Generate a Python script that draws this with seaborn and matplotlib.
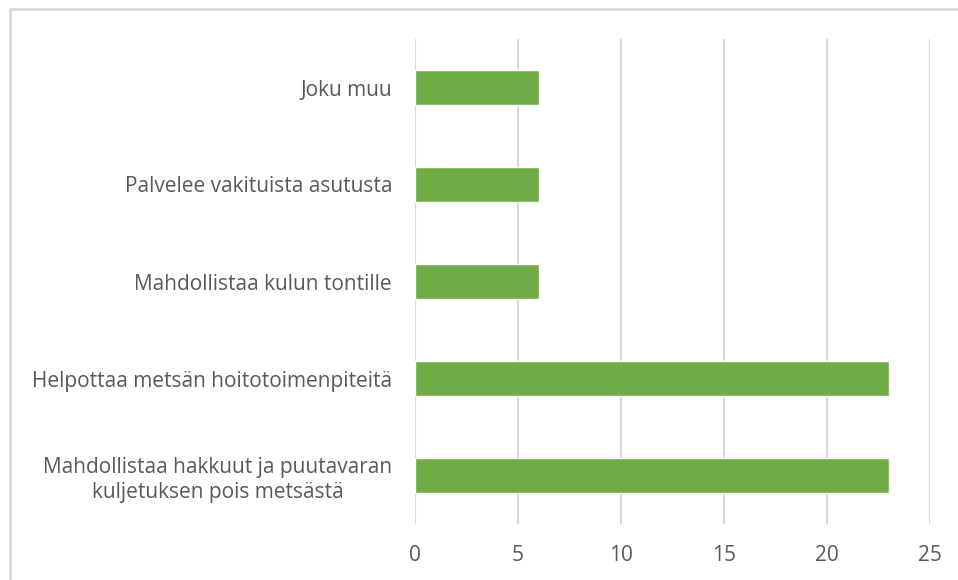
import matplotlib
matplotlib.use("Agg")
import matplotlib.pyplot as plt
from matplotlib.lines import Line2D
import seaborn as sns
import pandas as pd

categories = [
    "Joku muu",
    "Palvelee vakituista asutusta",
    "Mahdollistaa kulun tontille",
    "Helpottaa metsän hoitotoimenpiteitä",
    "Mahdollistaa hakkuut ja puutavaran\nkuljetuksen pois metsästä",
]
values = [6, 6, 6, 23, 23]
x_ticks = [0, 5, 10, 15, 20, 25]

df = pd.DataFrame({"cat": categories, "val": values})

sns.set_theme(style="white")
plt.rcParams["font.family"] = ["Open Sans", "DejaVu Sans"]

W, H = 958, 580
fig = plt.figure(figsize=(W / 100, H / 100), dpi=100)
left, right, top, bottom = 415, 930, 39, 524
ax = fig.add_axes([left / W, 1 - bottom / H, (right - left) / W, (bottom - top) / H])

sns.barplot(data=df, x="val", y="cat", orient="h", color="#70AD47",
            saturation=1, width=0.36, ax=ax, order=categories)

ax.set_xlim(0, 25)
ax.set_ylim(len(categories) - 0.5, -0.5)
ax.set_xticks(x_ticks)
ax.set_xticklabels([str(t) for t in x_ticks])
ax.grid(axis="x", color="#D9D9D9", linewidth=1.5)
ax.set_axisbelow(True)
for s in ax.spines.values():
    s.set_visible(False)
ax.set_xlabel("")
ax.set_ylabel("")
ax.tick_params(axis="both", length=0, colors="#595959", labelsize=15)
ax.tick_params(axis="x", pad=15)
ax.tick_params(axis="y", pad=16.5)
for lab in ax.get_yticklabels():
    lab.set_multialignment("center")
    lab.set_linespacing(1.25)

# outer chart frame (top and left edges)
fig.add_artist(Line2D([10 / W, 1], [1 - 9 / H, 1 - 9 / H], color="#D9D9D9", linewidth=2,
                      transform=fig.transFigure))
fig.add_artist(Line2D([10 / W, 10 / W], [0, 1 - 9 / H], color="#D9D9D9", linewidth=2,
                      transform=fig.transFigure))

fig.savefig("out.png", dpi=100)
